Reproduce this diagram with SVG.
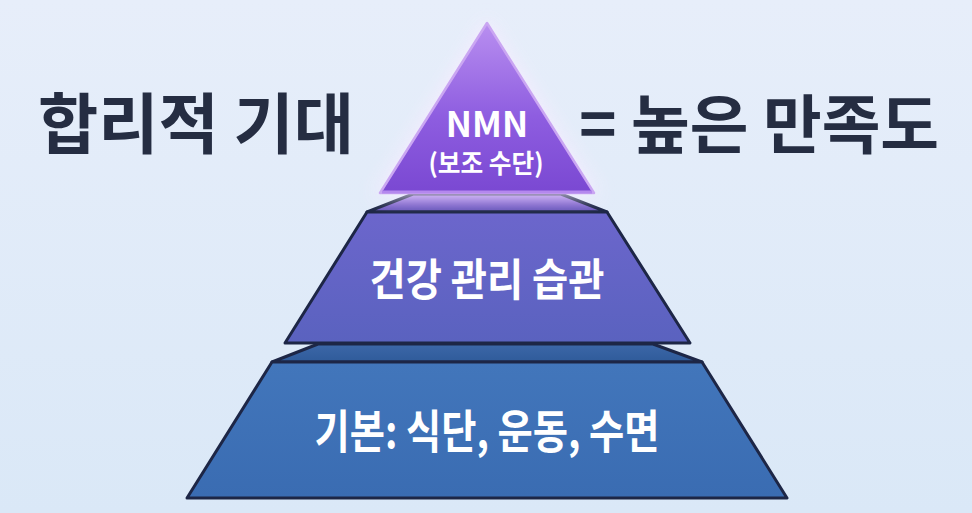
<svg xmlns="http://www.w3.org/2000/svg" width="972" height="513" viewBox="0 0 972 513">
  <defs>
    <linearGradient id="bg" x1="0" y1="0" x2="0" y2="1">
      <stop offset="0" stop-color="#e7eefa"/>
      <stop offset="1" stop-color="#dae8f7"/>
    </linearGradient>
    <linearGradient id="tri" x1="0" y1="0" x2="0" y2="1">
      <stop offset="0" stop-color="#b98ff0"/>
      <stop offset="0.55" stop-color="#8e5de0"/>
      <stop offset="1" stop-color="#7a48d2"/>
    </linearGradient>
    <linearGradient id="mid" x1="0" y1="0" x2="0" y2="1">
      <stop offset="0" stop-color="#6c66cc"/>
      <stop offset="1" stop-color="#5a62bf"/>
    </linearGradient>
    <linearGradient id="base" x1="0" y1="0" x2="0" y2="1">
      <stop offset="0" stop-color="#4276bb"/>
      <stop offset="1" stop-color="#3a6cb2"/>
    </linearGradient>
    <linearGradient id="step1" x1="0" y1="0" x2="0" y2="1">
      <stop offset="0" stop-color="#a57ce6"/>
      <stop offset="1" stop-color="#6454b8"/>
    </linearGradient>
    <linearGradient id="step2" x1="0" y1="0" x2="0" y2="1">
      <stop offset="0" stop-color="#3c67a8"/>
      <stop offset="1" stop-color="#2f5b9a"/>
    </linearGradient>
    <filter id="glow" x="-30%" y="-30%" width="160%" height="160%">
      <feGaussianBlur stdDeviation="9"/>
    </filter>
    <style>
      .head { font-family: "Noto Sans CJK KR", "Noto Sans", sans-serif; font-weight: 700; fill: #252d42; }
      .lbl { font-family: "Noto Sans CJK KR", "Noto Sans", sans-serif; font-weight: 700; fill: #ffffff; text-anchor: middle; }
      .edge { stroke: #1d2646; stroke-width: 3; stroke-linejoin: round; }
    </style>
  </defs>

  <rect x="0" y="0" width="972" height="513" fill="url(#bg)"/>

  <g id="title-left">
    <text class="head" x="38" y="148" font-size="66" textLength="316" lengthAdjust="spacingAndGlyphs">합리적 기대</text>
  </g>
  <g id="title-right">
    <text class="head" x="579" y="148" font-size="64" textLength="360" lengthAdjust="spacingAndGlyphs">= 높은 만족도</text>
  </g>

  <g id="base-layer">
    <polygon points="318,344 653,344 702,362 272,362" fill="url(#step2)" class="edge"/>
    <polygon points="272,362 702,362 787,498 187,498" fill="url(#base)" class="edge"/>
    <text class="lbl" x="487" y="448" font-size="46" textLength="345" lengthAdjust="spacingAndGlyphs">기본: 식단, 운동, 수면</text>
  </g>

  <g id="middle-layer">
    <polygon points="413,194 561,194 607,212 367,212" fill="url(#step1)" class="edge"/>
    <polygon points="367,212 607,212 690,343 285,343" fill="url(#mid)" class="edge"/>
    <text class="lbl" x="487" y="296" font-size="44" textLength="235" lengthAdjust="spacingAndGlyphs">건강 관리 습관</text>
  </g>

  <g id="top-layer">
    <polygon points="487,18 374,196 600,196" fill="#f6ecff" opacity="0.9" filter="url(#glow)"/>
    <polygon points="487,23 380,193 594,193" fill="url(#tri)" stroke="#caa6f2" stroke-width="2.5" stroke-linejoin="round"/>
    <line x1="382" y1="192" x2="592" y2="192" stroke="#b488ee" stroke-width="3"/>
    <text class="lbl" x="487" y="137" font-size="35" font-family="Noto Sans, sans-serif">NMN</text>
    <text class="lbl" x="486" y="173" font-size="26" textLength="115" lengthAdjust="spacingAndGlyphs">(보조 수단)</text>
  </g>
</svg>
